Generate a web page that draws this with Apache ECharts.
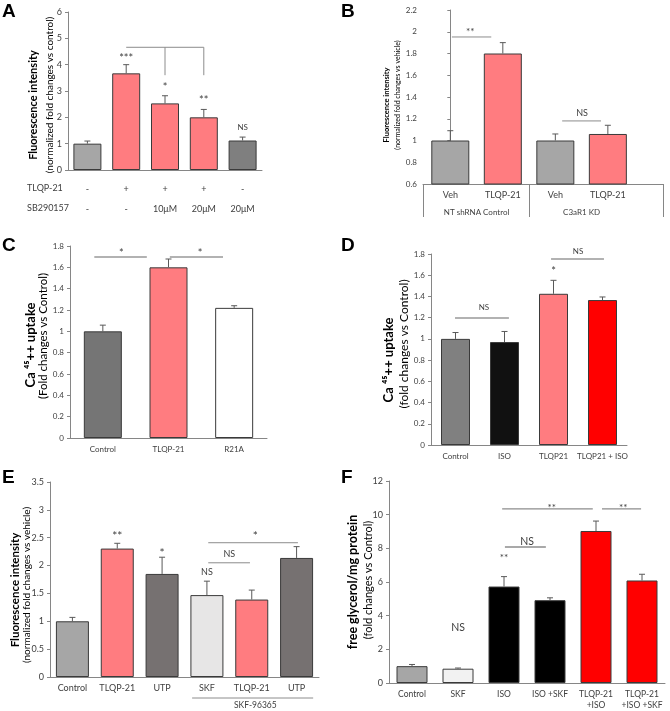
<!DOCTYPE html>
<html><head><meta charset="utf-8">
<script src="https://cdn.jsdelivr.net/npm/echarts@6/dist/echarts.min.js"></script>
<style>html,body{margin:0;padding:0;background:#fff}#c{width:670px;height:711px}</style>
</head><body><div id="c"></div>
<script>
// ---------------- DATA ----------------
// Panel A
const tlqpA = ['-', '+', '+', '+', '-'];
const sbA = ['-', '-', '10μM', '20μM', '20μM'];
const meanA = [1.0, 3.67, 2.53, 2.0, 1.12];
const upperA = [1.1, 4.0, 2.82, 2.3, 1.25];
const segA = [[1, 4.66, 3, 4.66], [2, 4.66, 2, 3.6], [3, 4.66, 3, 3.6]];
const txtA = [[1, 4.24, '***'], [2, 3.14, '*'], [3, 2.65, '**'], [4, 1.63, 'NS']];
// Panel B
const catsB = ['Veh', 'TLQP-21', 'Veh', 'TLQP-21'];
const groupsB = ['NT shRNA Control', 'C3aR1 KD'];
const meanB = [1.0, 1.8, 1.0, 1.06];
const upperB = [1.09, 1.9, 1.06, 1.14];
const segB = [[0.03, 1.952, 0.78, 1.952], [2.13, 1.18, 2.87, 1.18]];
const txtB = [[0.38, 2.0, '**'], [2.51, 1.253, 'NS']];
// Panel C
const catsC = ['Control', 'TLQP-21', 'R21A'];
const meanC = [1.0, 1.6, 1.22];
const upperC = [1.058, 1.678, 1.24];
const segC = [[-0.13, 1.697, 0.67, 1.697], [1.02, 1.697, 1.83, 1.697]];
const txtC = [[0.28, 1.734, '*'], [1.48, 1.734, '*']];
// Panel D
const catsD = ['Control', 'ISO', 'TLQP21', 'TLQP21 + ISO'];
const meanD = [1.0, 0.97, 1.425, 1.366];
const upperD = [1.06, 1.07, 1.552, 1.395];
const segD = [[-0.01, 1.197, 1.09, 1.197], [1.95, 1.753, 3.03, 1.753]];
const txtD = [[0.58, 1.30, 'NS'], [2, 1.64, '*'], [2.5, 1.82, 'NS']];
// Panel E
const catsE = ['Control', 'TLQP-21', 'UTP', 'SKF', 'TLQP-21', 'UTP'];
const meanE = [1.0, 2.305, 1.85, 1.47, 1.39, 2.137];
const upperE = [1.07, 2.40, 2.15, 1.72, 1.56, 2.34];
const segE = [[3.03, 2.05, 3.96, 2.05], [3.03, 2.41, 5.03, 2.41], [2.67, -0.377, 5.37, -0.377]];
const txtE = [[1, 2.53, '**'], [2, 2.226, '*'], [3, 1.885, 'NS'], [3.5, 2.21, 'NS'], [4.08, 2.53, '*'], [4.08, -0.50, 'SKF-96365']];
// Panel F
const catsF = ['Control', 'SKF', 'ISO', 'ISO +SKF', 'TLQP-21\n+ISO', 'TLQP-21\n+ISO +SKF'];
const meanF = [1.0, 0.85, 5.73, 4.92, 9.03, 6.09];
const upperF = [1.1, 0.89, 6.32, 5.06, 9.62, 6.46];
const segF = [[2.02, 8.08, 2.91, 8.08], [1.96, 10.34, 3.93, 10.34], [4.13, 10.34, 4.98, 10.34]];
const txtF = [[1, 3.27, 'NS'], [2, 7.43, '**'], [2.5, 8.38, 'NS'], [3.04, 10.4, '**'], [4.59, 10.4, '**']];
// Axis titles
const titleFI = 'Fluorescence intensity';
const titleCa = 'Ca ⁴⁵++ uptake';

// ---------------- STYLE ----------------
const PINK = '#ff7c80', RED = '#ff0000';
const colA = ['#a6a6a6', PINK, PINK, PINK, '#7f7f7f'];
const colB = ['#a6a6a6', PINK, '#a6a6a6', PINK];
const colC = ['#757575', PINK, '#ffffff'];
const colD = ['#808080', '#111111', PINK, RED];
const colE = ['#a6a6a6', PINK, '#767171', '#e7e6e6', PINK, '#767171'];
const colF = ['#a6a6a6', '#f2f2f2', '#000000', '#000000', RED, RED];
const FONT = 'Lato, "Open Sans", sans-serif';
const AXC = '#868686', TXT = '#404040';

const chart = echarts.init(document.getElementById('c'), null, {renderer: 'canvas'});

const grids = [
  {left: 68, top: 12, width: 194, height: 158},
  {left: 423, top: 10, width: 240, height: 174},
  {left: 70, top: 246, width: 197, height: 192},
  {left: 431, top: 254, width: 196, height: 191},
  {left: 50, top: 482, width: 269, height: 195},
  {left: 389, top: 481, width: 276, height: 202}
];

function yAx(gi, min, max, interval, fs) {
  return {
    type: 'value', gridIndex: gi, min, max, interval,
    axisLine: {show: true, lineStyle: {color: AXC, width: 1}},
    axisTick: {show: true, length: 3, lineStyle: {color: AXC}},
    splitLine: {show: false},
    axisLabel: {fontSize: fs, color: TXT, fontFamily: FONT, margin: 6}
  };
}
function xCat(gi, data, fs, extra) {
  return Object.assign({
    type: 'category', gridIndex: gi, data,
    axisLine: {show: true, lineStyle: {color: AXC, width: 1}},
    axisTick: {show: false}, splitLine: {show: false},
    axisLabel: {fontSize: fs, color: TXT, fontFamily: FONT, margin: 7, interval: 0}
  }, extra || {});
}

const xAxes = [
  xCat(0, tlqpA.map((t, i) => i), 9, {axisLabel: {interval: 0, margin: 9, fontFamily: FONT, fontSize: 9, color: TXT, lineHeight: 20,
    formatter: (v, i) => tlqpA[i] + '\n' + sbA[i]}}),
  {type: 'value', gridIndex: 1, min: -0.52, max: 4.05,
    axisLine: {show: true, lineStyle: {color: AXC}}, axisTick: {show: false}, splitLine: {show: false},
    axisLabel: {customValues: [0, 1, 2, 3], formatter: v => catsB[Math.round(v)], fontSize: 9, color: TXT, fontFamily: FONT, margin: 7}},
  {type: 'value', gridIndex: 1, min: -0.52, max: 4.05, position: 'bottom',
    axisLine: {show: false}, splitLine: {show: false},
    axisTick: {show: true, customValues: [-0.52, 1.5, 4.05], length: 33, lineStyle: {color: AXC}},
    axisLabel: {customValues: [0.5, 2.5], formatter: v => groupsB[v < 1.5 ? 0 : 1], fontSize: 8, color: TXT, fontFamily: FONT, margin: 24}},
  xCat(2, catsC, 8),
  xCat(3, catsD, 8),
  xCat(4, catsE, 9),
  xCat(5, catsF, 8.5, {axisLabel: {interval: 0, margin: 6, fontFamily: FONT, fontSize: 8.5, color: TXT, lineHeight: 11}})
];

const yAxes = [
  yAx(0, 0, 6, 1, 9),
  yAx(1, 0.6, 2.2, 0.2, 8),
  yAx(2, 0, 1.8, 0.2, 8),
  yAx(3, 0, 1.8, 0.2, 8),
  yAx(4, 0, 3.5, 0.5, 9),
  yAx(5, 0, 12, 2, 9)
];

function errRender(params, api) {
  const x = api.value(0);
  const b = api.coord([x, api.value(1)]);
  const t = api.coord([x, api.value(2)]);
  const st = {stroke: '#595959', lineWidth: 1};
  return {type: 'group', children: [
    {type: 'line', shape: {x1: b[0], y1: b[1], x2: t[0], y2: t[1]}, style: st},
    {type: 'line', shape: {x1: t[0] - 3, y1: t[1], x2: t[0] + 3, y2: t[1]}, style: st}
  ]};
}
function annRender(segs, txts, isValue, o) {
  return function (params, api) {
    const band = isValue ? 1 : api.size([1, 0])[0];
    const P = (x, y) => {
      if (isValue) return api.coord([x, y]);
      const c = api.coord([0, y]);
      return [c[0] + x * band, c[1]];
    };
    const ch = [];
    segs.forEach(s => {
      const a = P(s[0], s[1]), b = P(s[2], s[3]);
      ch.push({type: 'line', shape: {x1: a[0], y1: a[1], x2: b[0], y2: b[1]},
        style: {stroke: o.line || '#8c8c8c', lineWidth: o.lw || 1}});
    });
    txts.forEach(t => {
      const p = P(t[0], t[1]);
      const star = t[2].indexOf('*') >= 0;
      const fs = star ? (o.star || 10) : (t[2] === 'NS' ? (o.ns || 8) : (o.other || 9));
      ch.push({type: 'text', x: p[0], y: p[1], style: {text: t[2], fill: TXT,
        font: fs + 'px ' + FONT, align: 'center', verticalAlign: 'middle'}});
    });
    return {type: 'group', children: ch};
  };
}

const series = [];
function addPanel(xi, yi, means, upper, cols, bw, segs, txts, isValue, o) {
  series.push({
    type: 'bar', xAxisIndex: xi, yAxisIndex: yi, barWidth: bw,
    data: means.map((v, i) => ({value: isValue ? [i, v] : v, itemStyle: {color: cols[i]}})),
    itemStyle: {borderColor: '#3a3a3a', borderWidth: 1},
    emphasis: {disabled: true}, animation: false
  });
  series.push({
    type: 'custom', xAxisIndex: xi, yAxisIndex: yi, z: 3, animation: false,
    encode: {x: 0, y: [1, 2]},
    data: upper.map((u, i) => [i, means[i], u]),
    renderItem: errRender
  });
  series.push({
    type: 'custom', xAxisIndex: xi, yAxisIndex: yi, z: 4, animation: false, clip: false,
    data: [[0, means[0]]],
    renderItem: annRender(segs, txts, isValue, o)
  });
}
addPanel(0, 0, meanA, upperA, colA, 28, segA, txtA, false, {star: 11, ns: 8});
addPanel(1, 1, meanB, upperB, colB, 38, segB, txtB, true, {star: 10, ns: 9});
addPanel(3, 2, meanC, upperC, colC, 38, segC, txtC, false, {star: 11, lw: 1.3, line: '#999'});
addPanel(4, 3, meanD, upperD, colD, 29, segD, txtD, false, {star: 11, ns: 8, lw: 1.6, line: '#999'});
addPanel(5, 4, meanE, upperE, colE, 33, segE, txtE, false, {star: 12, ns: 9, other: 8.5});
addPanel(6, 5, meanF, upperF, colF, 31, segF, txtF, false, {star: 10, ns: 10.5, lw: 1.3});

const letter = (t, x, y) => ({type: 'text', left: x, top: y,
  style: {text: t, font: 'bold 19px "Liberation Sans", Arial, sans-serif', fill: '#000'}});
const rowLbl = (t, x, y) => ({type: 'text', left: x, top: y,
  style: {text: t, font: '9px ' + FONT, fill: TXT}});
const vTitle = (t, x, y, fs, bold) => ({type: 'text', x, y, rotation: Math.PI / 2,
  style: {text: t, font: (bold ? 'bold ' : '') + fs + 'px ' + FONT, fill: '#000', align: 'center', verticalAlign: 'middle'}});

chart.setOption({
  animation: false,
  backgroundColor: '#fff',
  grid: grids.map(g => Object.assign({outerBoundsMode: 'none', containLabel: false}, g)),
  xAxis: xAxes,
  yAxis: yAxes,
  series,
  graphic: [
    letter('A', 2, 2), letter('B', 341, 2), letter('C', 2, 236), letter('D', 341, 236),
    letter('E', 2, 468), letter('F', 341, 468),
    rowLbl('TLQP-21', 27, 184), rowLbl('SB290157', 27, 204),
    vTitle(titleFI, 33, 105, 11, true), vTitle('(normalized fold changes vs control)', 50, 95, 10, false),
    vTitle(titleFI, 387, 105, 7.5, true), vTitle('(normalized fold changes vs vehicle)', 398, 95, 7, false),
    vTitle(titleCa, 31, 345, 13, true), vTitle('(Fold changes vs Control)', 43, 336, 11.5, false),
    vTitle(titleCa, 389, 360, 13, true), vTitle('(fold changes vs Control)', 404, 344, 12, false),
    vTitle(titleFI, 15, 590, 11.5, true), vTitle('(normalized fold changes vs vehicle)', 27, 585, 10, false),
    vTitle('free glycerol/mg protein', 353, 582, 12.5, true), vTitle('(fold changes vs Control)', 368, 580, 11, false)
  ]
});
</script></body></html>
